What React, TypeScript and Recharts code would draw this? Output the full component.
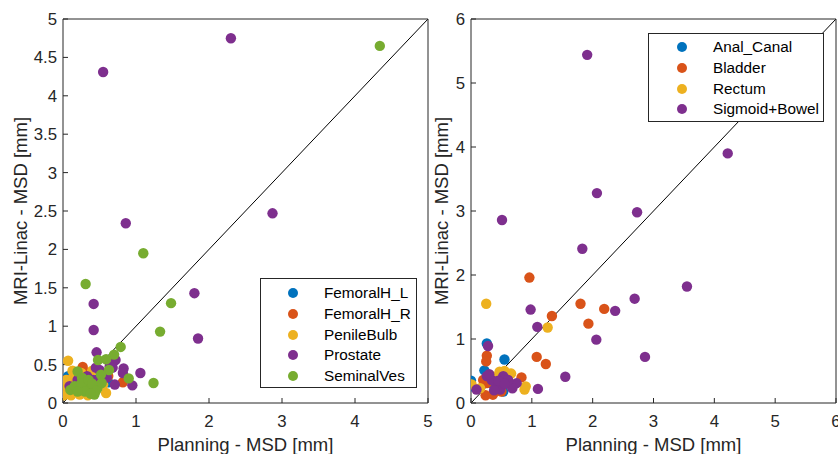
import { ScatterChart, Scatter, XAxis, YAxis, ReferenceLine, Label } from 'recharts';

const FONT = '"Liberation Sans", Arial, Helvetica, sans-serif';
const INK = '#262626';
const COLORS = ['#0072BD', '#D95319', '#EDB120', '#7E2F8E', '#77AC30'];

// left panel: pelvic structures
const leftNames = ['FemoralH_L', 'FemoralH_R', 'PenileBulb', 'Prostate', 'SeminalVes'];
const femoralL = [[0.07, 0.35], [0.37, 0.37], [0.62, 0.27], [0.46, 0.3], [0.11, 0.28], [0.25, 0.33], [0.52, 0.32]];
const femoralR = [[0.82, 0.27], [0.27, 0.47], [0.02, 0.29], [0.62, 0.35], [0.09, 0.3], [0.37, 0.35], [0.18, 0.37], [0.5, 0.28], [0.03, 0.22], [0.3, 0.4]];
const penileBulb = [[0.07, 0.55], [0.01, 0.1], [0.59, 0.13], [0.13, 0.42], [0.25, 0.39], [0.34, 0.1], [0.11, 0.1], [0.23, 0.11], [0.05, 0.22], [0.55, 0.24], [0.3, 0.17], [0.18, 0.26], [0.41, 0.15], [0.2, 0.2], [0.1, 0.18], [0.05, 0.3], [0.15, 0.36], [0.4, 0.42]];
const prostate = [[2.3, 4.75], [0.55, 4.31], [2.87, 2.47], [0.86, 2.34], [1.8, 1.43], [0.42, 1.29], [1.85, 0.84], [0.42, 0.95], [0.46, 0.66], [0.72, 0.56], [0.68, 0.46], [0.83, 0.45], [0.82, 0.39], [1.06, 0.39], [0.71, 0.24], [0.95, 0.23], [0.45, 0.46], [0.5, 0.43], [0.09, 0.22], [0.27, 0.3], [0.41, 0.3], [0.6, 0.33], [0.35, 0.25], [0.64, 0.48], [0.2, 0.3], [0.33, 0.35]];
const seminalVes = [[4.34, 4.65], [1.1, 1.95], [0.31, 1.55], [1.48, 1.3], [1.33, 0.93], [0.79, 0.73], [0.7, 0.63], [0.48, 0.56], [0.59, 0.57], [0.63, 0.43], [0.9, 0.32], [1.24, 0.26], [0.52, 0.37], [0.2, 0.41], [0.26, 0.33], [0.1, 0.17], [0.31, 0.22], [0.43, 0.11], [0.43, 0.22], [0.47, 0.19], [0.53, 0.26], [0.16, 0.22], [0.25, 0.25], [0.35, 0.3], [0.3, 0.15], [0.4, 0.25], [0.2, 0.15], [0.45, 0.16], [0.38, 0.12]];

// right panel: bowel structures
const rightNames = ['Anal_Canal', 'Bladder', 'Rectum', 'Sigmoid+Bowel'];
const analCanal = [[0.0, 0.35], [0.26, 0.93], [0.55, 0.68], [0.22, 0.51], [0.0, 0.26], [0.53, 0.18], [0.35, 0.3]];
const bladder = [[0.96, 1.96], [1.8, 1.55], [2.19, 1.47], [1.33, 1.36], [1.93, 1.24], [1.08, 0.72], [1.23, 0.61], [0.83, 0.4], [0.26, 0.74], [0.25, 0.65], [0.26, 0.31], [0.36, 0.13], [0.24, 0.12], [0.5, 0.18], [0.2, 0.36]];
const rectum = [[0.25, 1.55], [1.26, 1.18], [0.88, 0.21], [0.9, 0.26], [0.66, 0.46], [0.47, 0.49], [0.01, 0.29], [0.15, 0.23], [0.55, 0.5], [0.34, 0.42], [0.67, 0.26], [0.48, 0.26]];
const sigmoidBowel = [[1.91, 5.44], [4.22, 3.9], [2.07, 3.28], [0.51, 2.86], [2.73, 2.98], [1.83, 2.41], [3.55, 1.82], [2.69, 1.63], [2.37, 1.44], [0.98, 1.46], [1.09, 1.19], [2.06, 0.99], [2.86, 0.72], [1.55, 0.41], [1.1, 0.22], [0.28, 0.89], [0.09, 0.21], [0.26, 0.42], [0.42, 0.26], [0.59, 0.31], [0.75, 0.31], [0.68, 0.23], [0.53, 0.42], [0.34, 0.36], [0.48, 0.21], [0.61, 0.36], [0.3, 0.45], [0.45, 0.35], [0.55, 0.3], [0.38, 0.2]];

const leftTicksX = [0, 1, 2, 3, 4, 5];
const leftTicksY = [0, 0.5, 1, 1.5, 2, 2.5, 3, 3.5, 4, 4.5, 5];
const rightTicks = [0, 1, 2, 3, 4, 5, 6];

const toPts = (arr: number[][]) => arr.map(([x, y]) => ({ x, y }));

const dot = (p: any) => <circle cx={p.cx} cy={p.cy} r={5.2} fill={p.fill} />;

const tickStyle = { fill: INK, fontSize: 16.8, fontFamily: FONT };
const labelStyle = { fill: INK, fontSize: 18.5, fontFamily: FONT };

function Panel(props: {
  left: number;
  width: number;
  yAxisWidth: number;
  marginRight: number;
  max: number;
  xTicks: number[];
  yTicks: number[];
  series: number[][][];
  yLabelOffset: number;
}) {
  const { left, width, yAxisWidth, marginRight, max, xTicks, yTicks, series, yLabelOffset } = props;
  return (
    <div style={{ position: 'absolute', left, top: 0 }}>
      <ScatterChart width={width} height={454} margin={{ top: 18, right: marginRight, bottom: 0, left: 0 }}>
        <XAxis
          type="number"
          dataKey="x"
          domain={[0, max]}
          ticks={xTicks}
          interval={0}
          allowDataOverflow
          height={51}
          tickSize={-5}
          tickMargin={17}
          stroke={INK}
          tick={tickStyle}
        >
          <Label value="Planning - MSD [mm]" position="insideBottom" offset={3.5} style={labelStyle} />
        </XAxis>
        <XAxis
          xAxisId="top"
          orientation="top"
          type="number"
          domain={[0, max]}
          ticks={xTicks}
          interval={0}
          allowDataOverflow
          height={1}
          tickSize={-5}
          stroke={INK}
          tick={false}
        />
        <YAxis
          type="number"
          dataKey="y"
          domain={[0, max]}
          ticks={yTicks}
          interval={0}
          allowDataOverflow
          width={yAxisWidth}
          tickSize={-5}
          tickMargin={11}
          stroke={INK}
          tick={tickStyle}
        >
          <Label
            value="MRI-Linac - MSD [mm]"
            position="insideLeft"
            angle={-90}
            offset={yLabelOffset}
            style={{ ...labelStyle, textAnchor: 'middle' }}
          />
        </YAxis>
        <YAxis
          yAxisId="right"
          orientation="right"
          type="number"
          domain={[0, max]}
          ticks={yTicks}
          interval={0}
          allowDataOverflow
          width={1}
          tickSize={-5}
          stroke={INK}
          tick={false}
        />
        <ReferenceLine
          segment={[{ x: 0, y: 0 }, { x: max, y: max }]}
          stroke="#000"
          strokeWidth={1}
          ifOverflow="visible"
        />
        {series.map((s, i) => (
          <Scatter key={i} data={toPts(s)} fill={COLORS[i]} shape={dot} isAnimationActive={false} />
        ))}
        <Scatter
          xAxisId="top"
          yAxisId="right"
          data={[{ x: 0, y: 0 }]}
          fill="none"
          shape={() => <g />}
          isAnimationActive={false}
        />
      </ScatterChart>
    </div>
  );
}

function LegendBox(props: {
  left: number;
  top: number;
  width: number;
  height: number;
  names: string[];
  firstRow: number;
  markerX: number;
  textX: number;
}) {
  const { left, top, width, height, names, firstRow, markerX, textX } = props;
  return (
    <div
      style={{
        position: 'absolute',
        left,
        top,
        width,
        height,
        boxSizing: 'border-box',
        border: `1px solid ${INK}`,
        background: '#fff',
        fontFamily: FONT,
        fontSize: 15.3,
        color: '#000',
      }}
    >
      {names.map((n, i) => {
        const cy = firstRow + i * 20.9;
        return (
          <div key={n}>
            <div
              style={{
                position: 'absolute',
                left: markerX - 5,
                top: cy - 5,
                width: 10,
                height: 10,
                borderRadius: '50%',
                background: COLORS[i],
              }}
            />
            <div style={{ position: 'absolute', left: textX, top: cy - 9, lineHeight: '18px', whiteSpace: 'nowrap' }}>
              {n}
            </div>
          </div>
        );
      })}
    </div>
  );
}

export default function App() {
  return (
    <div style={{ position: 'absolute', left: 0, top: 0, width: 838, height: 454, background: '#fff', overflow: 'hidden' }}>
      <Panel
        left={0}
        width={440}
        yAxisWidth={63}
        marginRight={11}
        max={5}
        xTicks={leftTicksX}
        yTicks={leftTicksY}
        series={[femoralL, femoralR, penileBulb, prostate, seminalVes]}
        yLabelOffset={20}
      />
      <Panel
        left={420}
        width={418}
        yAxisWidth={51}
        marginRight={1}
        max={6}
        xTicks={rightTicks}
        yTicks={rightTicks}
        series={[analCanal, bladder, rectum, sigmoidBowel]}
        yLabelOffset={21}
      />
      <LegendBox left={260} top={278} width={157} height={110} names={leftNames} firstRow={13.7} markerX={31.7} textX={63} />
      <LegendBox left={648} top={33} width={176} height={89} names={rightNames} firstRow={12.7} markerX={32.7} textX={64} />
    </div>
  );
}
